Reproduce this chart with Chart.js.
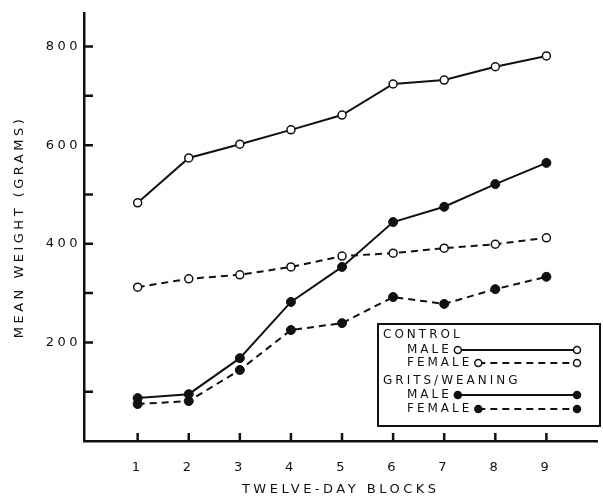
<!DOCTYPE html>
<html>
<head>
<meta charset="utf-8">
<script src="https://cdn.jsdelivr.net/npm/chart.js"></script>
<style>
  body { margin: 0; background: #fff; }
  canvas { display: block; }
</style>
</head>
<body>
<canvas id="weightChart" width="603" height="497"></canvas>

<script>
    // values (mean weight in grams per twelve-day block)
    const blocks = [1, 2, 3, 4, 5, 6, 7, 8, 9];
    const controlMale = [483, 574, 602, 631, 661, 724, 732, 759, 781];
    const controlFemale = [312, 329, 337, 353, 375, 381, 391, 399, 412];
    const gritsMale = [87, 95, 168, 282, 353, 444, 475, 521, 564];
    const gritsFemale = [75, 81, 144, 225, 239, 292, 278, 308, 333];

    const yTickValues = [100, 200, 300, 400, 500, 600, 700, 800];
    const yLabelValues = [200, 400, 600, 800];
    const legendGroups = ['CONTROL', 'GRITS/WEANING'];
    const legendRows = ['MALE', 'FEMALE'];

    const INK = '#111';
    const FONT = "'DejaVu Sans', sans-serif";

    const toPoints = vals => blocks.map((b, i) => ({ x: b, y: vals[i] }));

    function spacing(chart) {
        chart.ctx.letterSpacing = '3.5px';
    }

    // tick marks point inward, like the original
    const inwardTicks = {
        id: 'inwardTicks',
        afterDraw(chart) {
            const { ctx, scales: { x, y }, chartArea } = chart;
            ctx.save();
            ctx.strokeStyle = INK;
            ctx.lineWidth = 2.5;
            ctx.beginPath();
            yTickValues.forEach(v => {
                const py = y.getPixelForValue(v);
                ctx.moveTo(chartArea.left, py);
                ctx.lineTo(chartArea.left + 9, py);
            });
            blocks.forEach(v => {
                const px = x.getPixelForValue(v);
                ctx.moveTo(px, chartArea.bottom);
                ctx.lineTo(px, chartArea.bottom - 8);
            });
            ctx.stroke();
            ctx.restore();
        }
    };

    // boxed legend in the lower right corner
    const boxLegend = {
        id: 'boxLegend',
        afterDraw(chart) {
            const ctx = chart.ctx;
            const box = { left: 378, top: 324, right: 600, bottom: 426 };
            ctx.save();
            ctx.letterSpacing = '3px';
            ctx.strokeStyle = INK;
            ctx.lineWidth = 2;
            ctx.strokeRect(box.left, box.top, box.right - box.left, box.bottom - box.top);

            ctx.font = '12px ' + FONT;
            ctx.fillStyle = INK;
            ctx.textBaseline = 'middle';
            const rowY = [335, 350, 363, 381, 395, 409];
            const sampleEnd = 577;
            let r = 0;
            legendGroups.forEach((group, g) => {
                ctx.fillText(group, 383, rowY[r++]);
                legendRows.forEach((label, k) => {
                    const ds = chart.data.datasets[g * 2 + k];
                    const yy = rowY[r++];
                    ctx.fillText(label, 407, yy);
                    const start = 407 + ctx.measureText(label).width + 6;
                    ctx.save();
                    ctx.lineWidth = 2;
                    ctx.setLineDash(ds.borderDash || []);
                    ctx.beginPath();
                    ctx.moveTo(start, yy);
                    ctx.lineTo(sampleEnd, yy);
                    ctx.stroke();
                    ctx.setLineDash([]);
                    [start, sampleEnd].forEach(px => {
                        ctx.beginPath();
                        ctx.arc(px, yy, 3.5, 0, Math.PI * 2);
                        ctx.fillStyle = ds.pointBackgroundColor;
                        ctx.fill();
                        ctx.lineWidth = 1.5;
                        ctx.stroke();
                    });
                    ctx.restore();
                });
            });
            ctx.restore();
        }
    };

    const letterSpacing = {
        id: 'letterSpacing',
        beforeUpdate: spacing,
        beforeLayout: spacing,
        beforeDraw: spacing
    };

    const openPoint = { pointBackgroundColor: '#fff', pointBorderColor: INK, pointBorderWidth: 1.5, pointRadius: 4 };
    const filledPoint = { pointBackgroundColor: INK, pointBorderColor: INK, pointBorderWidth: 1, pointRadius: 4.5 };

    const ctx = document.getElementById('weightChart').getContext('2d');
    const weightChart = new Chart(ctx, {
        type: 'line',
        data: {
            datasets: [
                { label: 'Control male', data: toPoints(controlMale), borderColor: INK, borderWidth: 2, ...openPoint },
                { label: 'Control female', data: toPoints(controlFemale), borderColor: INK, borderWidth: 2, borderDash: [7, 5], ...openPoint },
                { label: 'Grits/weaning male', data: toPoints(gritsMale), borderColor: INK, borderWidth: 2, ...filledPoint },
                { label: 'Grits/weaning female', data: toPoints(gritsFemale), borderColor: INK, borderWidth: 2, borderDash: [7, 5], ...filledPoint }
            ]
        },
        options: {
            responsive: false,
            animation: false,
            layout: { padding: { top: 13, right: 0, left: 0, bottom: 0 } },
            plugins: {
                legend: { display: false },
                tooltip: { enabled: false }
            },
            scales: {
                x: {
                    type: 'linear',
                    min: -0.05,
                    max: 10,
                    afterBuildTicks: scale => { scale.ticks = blocks.map(v => ({ value: v })); },
                    afterFit: scale => { scale.height = 56; },
                    grid: { display: false, drawTicks: false },
                    border: { display: true, color: INK, width: 2.5 },
                    ticks: { color: INK, font: { family: FONT, size: 13 }, padding: 19, maxRotation: 0 },
                    title: {
                        display: true,
                        text: 'TWELVE-DAY BLOCKS',
                        color: INK,
                        font: { family: FONT, size: 13 },
                        padding: { top: 0, bottom: 0 }
                    }
                },
                y: {
                    min: 0,
                    max: 868,
                    afterBuildTicks: scale => { scale.ticks = yLabelValues.map(v => ({ value: v })); },
                    afterFit: scale => { scale.width = 84; },
                    grid: { display: false, drawTicks: false },
                    border: { display: true, color: INK, width: 2.5 },
                    ticks: { color: INK, font: { family: FONT, size: 13 }, padding: 3 },
                    title: {
                        display: true,
                        text: 'MEAN WEIGHT (GRAMS)',
                        color: INK,
                        font: { family: FONT, size: 13 },
                        padding: { top: 12, bottom: 0 }
                    }
                }
            }
        },
        plugins: [letterSpacing, inwardTicks, boxLegend]
    });
</script>
</body>
</html>
